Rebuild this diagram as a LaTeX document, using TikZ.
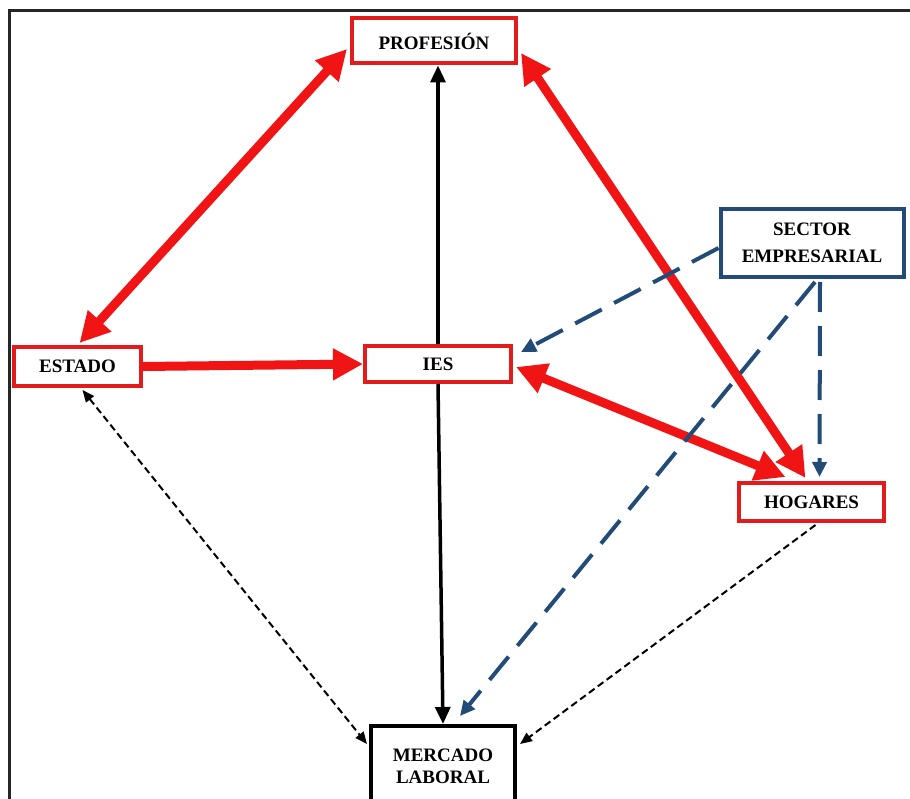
\documentclass[tikz,border=0pt]{standalone}
\usepackage{fontspec}
\setmainfont{Liberation Serif}
\usetikzlibrary{arrows.meta,calc}
\definecolor{rboxred}{RGB}{226,28,28}
\definecolor{rarrred}{RGB}{240,20,20}
\definecolor{rblue}{RGB}{35,75,120}
\tikzset{
  lbl/.style={font=\bfseries\fontsize{19}{24}\selectfont, align=center, inner sep=0pt, fill=white},
  redbox/.style={lbl, draw=rboxred, line width=4pt},
  bluebox/.style={lbl, draw=rblue, line width=4pt},
  blackbox/.style={lbl, draw=black, line width=4pt},
  redarr/.style={draw=rarrred, line width=9pt, {Triangle[length=30pt,width=30pt]}-{Triangle[length=30pt,width=30pt]}},
  redone/.style={draw=rarrred, line width=9pt, -{Triangle[length=30pt,width=30pt]}},
  blkarr/.style={draw=black, line width=3.5pt, -{Triangle[length=17pt,width=15pt]}},
  bluedash/.style={draw=rblue, line width=4pt, dash pattern=on 30pt off 14pt, -{Triangle[length=15pt,width=14pt]}},
  blkdash/.style={draw=black, line width=2pt, dash pattern=on 7pt off 4pt, -{Triangle[length=12pt,width=10pt]}},
  blkdash2/.style={blkdash, {Triangle[length=12pt,width=10pt]}-{Triangle[length=12pt,width=10pt]}}
}
\begin{document}
\begin{tikzpicture}[x=1pt,y=-1pt]
\useasboundingbox (0,0) rectangle (910,799);
\clip (0,0) rectangle (910,799);
\fill[white] (0,0) rectangle (910,799);
% frame
\draw[line width=3pt, black!85] (9.5,805) -- (9.5,11) -- (915,11);
% nodes
\node[redbox, minimum width=164pt, minimum height=45pt] (prof) at (434,41) {PROFESIÓN};
\node[redbox, minimum width=127pt, minimum height=39pt] (estado) at (77.5,366.5) {ESTADO};
\node[redbox, minimum width=146pt, minimum height=36pt] (ies) at (438,364) {IES};
\node[bluebox, minimum width=183pt, minimum height=68pt, font=\bfseries\fontsize{19}{27}\selectfont] (sector) at (812,243) {SECTOR\\EMPRESARIAL};
\node[redbox, minimum width=145pt, minimum height=38pt] (hogares) at (811.5,502) {HOGARES};
\node[blackbox, minimum width=144pt, minimum height=80pt, font=\bfseries\fontsize{19}{22}\selectfont] (mercado) at (443,766) {MERCADO\\LABORAL};
% red arrows
\draw[redarr] ($(prof.west)+(-3,8)$) -- ($(estado.north)+(2,-2)$);
\draw[redarr] ($(prof.east)+(3,12)$) -- ($(hogares.north)+(-6,-3)$);
\draw[redone] (estado.east) -- (ies.west);
\draw[redarr] ($(ies.east)+(3,3)$) -- ($(hogares.north)+(-26,-4)$);
% black arrows
\draw[blkarr] (ies.north) -- (ies.north |- prof.south);
\draw[blkarr] (ies.south) -- (mercado.north);
% blue dashed
\draw[bluedash] ($(sector.west)+(0,5)$) -- ($(ies.north east)+(8,8)$);
\draw[bluedash] ($(sector.south)+(3,3)$) -- ($(mercado.north)+(17,-8)$);
\draw[bluedash] ($(sector.south)+(8,3)$) -- ($(hogares.north)+(8,-4)$);
% black dashed
\draw[blkdash2] ($(estado.south)+(5,2)$) -- ($(mercado.north west)+(-2,20)$);
\draw[blkdash] ($(hogares.south)+(4,2)$) -- ($(mercado.north east)+(3,20)$);
\end{tikzpicture}
\end{document}
